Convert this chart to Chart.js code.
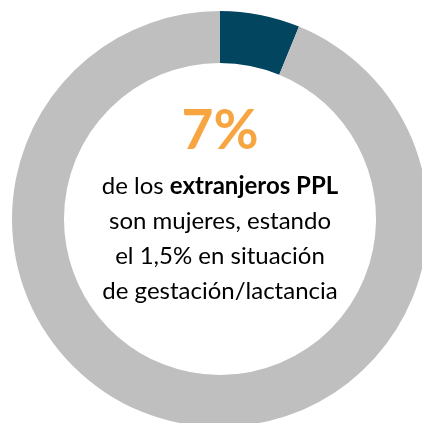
<!DOCTYPE html>
<html>
<head>
<meta charset="utf-8">
<script src="https://cdn.jsdelivr.net/npm/chart.js@4/dist/chart.umd.min.js"></script>
<style>
  html, body { margin: 0; padding: 0; background: #fff; overflow: hidden; width: 422px; height: 423px; }
  #wrap { position: absolute; left: 12px; top: 11px; width: 416px; height: 416px; }
</style>
</head>
<body>
<div id="wrap"><canvas id="donut"></canvas></div>
<script>
// Datos del gráfico
const categorias = ['Mujeres', 'Hombres'];
const valores = [6.2, 93.8];
const colores = ['#02455f', '#bfbfbf'];

// Texto central
const cifra = '7%';
const lineas = [
  [['de los ', 'normal'], ['extranjeros PPL', 'bold']],
  [['son mujeres, estando', 'normal']],
  [['el 1,5% en situación', 'normal']],
  [['de gestación/lactancia', 'normal']]
];

const FUENTE = 'Lato, "Open Sans", sans-serif';

// Plugin para dibujar el texto en el centro del anillo
const textoCentral = {
  id: 'textoCentral',
  afterDraw(chart) {
    const ctx = chart.ctx;
    const arc = chart.getDatasetMeta(0).data[0];
    const cx = arc.x;
    const cy = arc.y;
    ctx.save();
    ctx.textBaseline = 'alphabetic';

    // La cifra grande en naranja
    ctx.fillStyle = '#f7a541';
    ctx.font = 'bold 55px ' + FUENTE;
    ctx.textAlign = 'center';
    ctx.fillText(cifra, cx, cy - 70);

    // Las líneas de texto
    ctx.fillStyle = '#000';
    ctx.textAlign = 'left';
    const size = 24;
    lineas.forEach((partes, i) => {
      let ancho = 0;
      partes.forEach(p => {
        ctx.font = p[1] + ' ' + size + 'px ' + FUENTE;
        ancho += ctx.measureText(p[0]).width;
      });
      let x = cx - ancho / 2;
      const y = cy - 25 + i * 35;
      partes.forEach(p => {
        ctx.font = p[1] + ' ' + size + 'px ' + FUENTE;
        ctx.fillText(p[0], x, y);
        x += ctx.measureText(p[0]).width;
      });
    });
    ctx.restore();
  }
};

new Chart(document.getElementById('donut'), {
  type: 'doughnut',
  data: {
    labels: categorias,
    datasets: [{
      data: valores,
      backgroundColor: colores,
      borderWidth: 0
    }]
  },
  options: {
    responsive: true,
    maintainAspectRatio: false,
    animation: false,
    cutout: '75%',
    layout: { padding: 0 },
    plugins: {
      legend: { display: false },
      tooltip: { enabled: false }
    }
  },
  plugins: [textoCentral]
});
</script>
</body>
</html>
